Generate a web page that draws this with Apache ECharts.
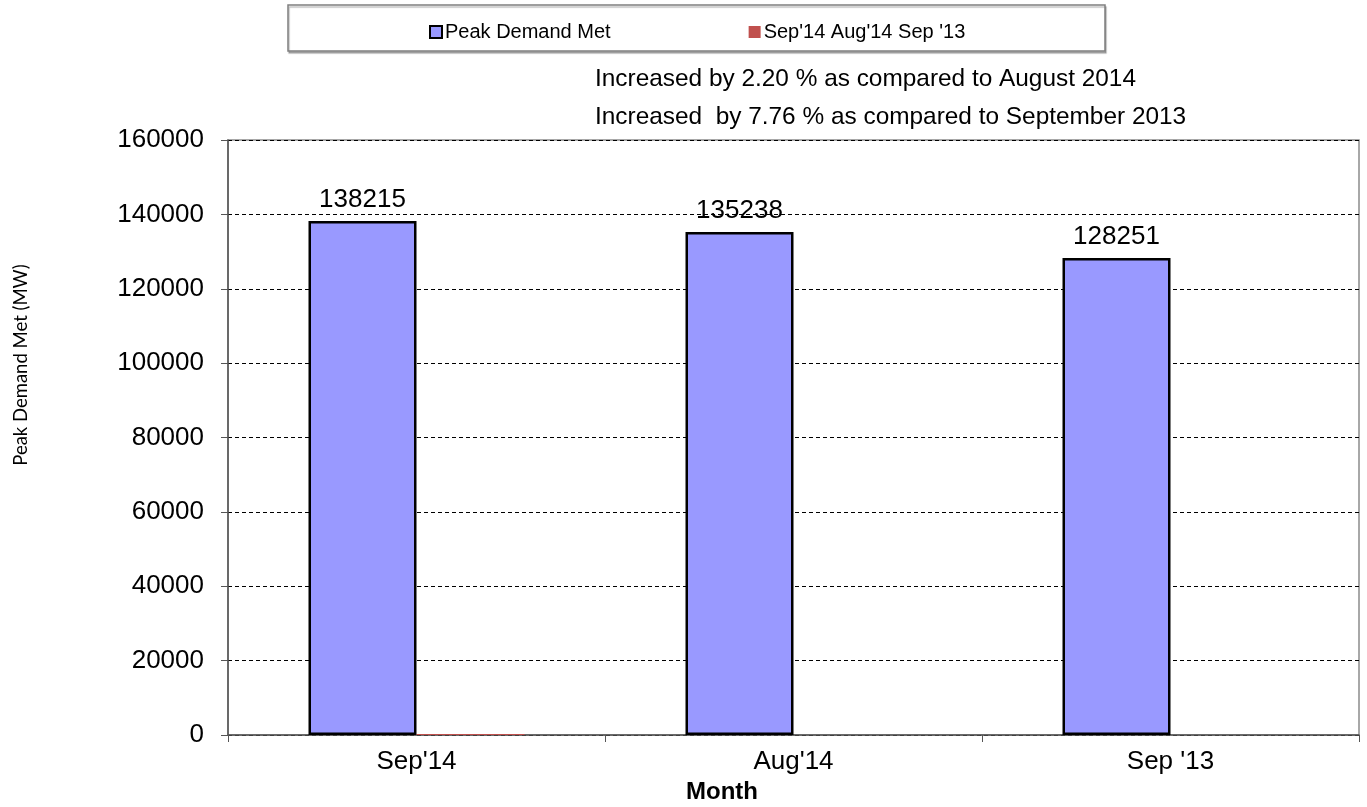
<!DOCTYPE html>
<html>
<head>
<meta charset="utf-8">
<title>Peak Demand Met</title>
<script src="https://cdn.jsdelivr.net/npm/echarts@6/dist/echarts.min.js"></script>
<style>
  html, body { margin: 0; padding: 0; background: #fff; }
  #chart { width: 1367px; height: 807px; }
</style>
</head>
<body>
<div id="chart"></div>
<script>
// categories and values
var months = ["Sep'14", "Aug'14", "Sep '13"]
var peakDemand = [138215, 135238, 128251]
var otherSeries = [250, 0, 0] // red series, almost nothing
var yTicks = { min: 0, max: 160000, interval: 20000 }
var notes = [
  'Increased by 2.20 % as compared to August 2014',
  'Increased  by 7.76 % as compared to September 2013'
]

var chart = echarts.init(document.getElementById('chart'))

chart.setOption({
  animation: false,
  textStyle: { fontFamily: 'Arial, "Liberation Sans", sans-serif' },
  title: {
    text: notes.join('\n'),
    left: 590,
    top: 55,
    textStyle: {
      fontSize: 24.4,
      fontWeight: 'normal',
      color: '#000',
      lineHeight: 38
    }
  },
  graphic: [
    { // legend box
      type: 'rect',
      shape: { x: 288, y: 5, width: 817, height: 46 },
      style: { fill: '#fff', stroke: '#7f7f7f', lineWidth: 1.5, shadowColor: 'rgba(0,0,0,0.25)', shadowOffsetX: 1, shadowOffsetY: 2, shadowBlur: 1 },
      z: -1
    },
    { // y axis title
      type: 'text',
      x: 21,
      y: 365,
      rotation: Math.PI / 2,
      style: {
        text: 'Peak Demand Met (MW)',
        fontSize: 18.5,
        fontFamily: 'Lato',
        fill: '#000',
        align: 'center',
        verticalAlign: 'middle'
      }
    },
    { // x axis title
      type: 'text',
      x: 722,
      y: 792,
      style: {
        text: 'Month',
        fontSize: 24,
        fontWeight: 'bold',
        fontFamily: 'Arial',
        fill: '#000',
        align: 'center',
        verticalAlign: 'middle'
      }
    }
  ],
  legend: {
    left: 424,
    top: 17,
    itemGap: 138,
    itemWidth: 12,
    itemHeight: 12,
    icon: 'rect',
    textStyle: { fontSize: 20, color: '#000', padding: [0, 0, 0, -2] },
    data: ['Peak Demand Met', "Sep'14 Aug'14 Sep '13"]
  },
  grid: {
    left: 228,
    right: 8,
    top: 140,
    bottom: 72,
    show: true,
    borderColor: '#8c8c8c',
    borderWidth: 1.5
  },
  xAxis: {
    type: 'category',
    data: months,
    axisLine: { lineStyle: { color: '#555', width: 1.5 } },
    axisTick: { show: true, length: 7, lineStyle: { color: '#555' } },
    axisLabel: { fontSize: 26, color: '#000', margin: 14 }
  },
  yAxis: {
    type: 'value',
    min: yTicks.min,
    max: yTicks.max,
    interval: yTicks.interval,
    axisLine: { show: true, lineStyle: { color: '#555', width: 1.5 } },
    axisTick: { show: true, length: 7, lineStyle: { color: '#555' } },
    axisLabel: {
      fontSize: 26,
      color: '#000',
      margin: 24,
      formatter: function (v) { return String(v) }
    },
    splitLine: { show: true, lineStyle: { color: '#000', width: 1, type: [4, 3] } }
  },
  series: [
    {
      name: 'Peak Demand Met',
      type: 'bar',
      data: peakDemand,
      barWidth: 108,
      barGap: '0%',
      itemStyle: { color: '#9999ff', borderColor: '#000', borderWidth: 2.5 },
      label: {
        show: true,
        position: 'top',
        distance: 8,
        fontSize: 26,
        color: '#000'
      }
    },
    {
      name: "Sep'14 Aug'14 Sep '13",
      type: 'bar',
      data: otherSeries,
      barWidth: 108,
      itemStyle: { color: '#c0504d' }
    }
  ]
})
</script>
</body>
</html>
